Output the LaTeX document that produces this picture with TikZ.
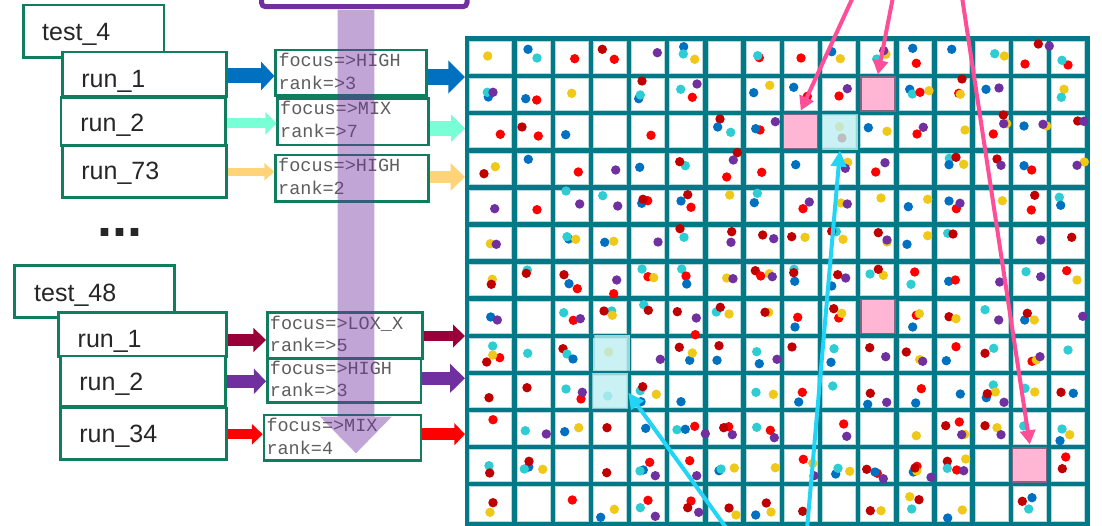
\documentclass[tikz,border=0pt]{standalone}
\usepackage{fontspec}
\setmainfont{Liberation Sans}
\newfontfamily\monof{Liberation Mono}
\usetikzlibrary{arrows.meta}
\definecolor{gridteal}{HTML}{037987}
\definecolor{celledge}{HTML}{B4D8DC}
\definecolor{boxgreen}{HTML}{0F7D5E}
\definecolor{dY}{HTML}{F0C818}
\definecolor{dC}{HTML}{2ECCD3}
\definecolor{dR}{HTML}{FF0000}
\definecolor{dD}{HTML}{C00000}
\definecolor{dB}{HTML}{0070C0}
\definecolor{dP}{HTML}{7030A0}
\definecolor{aqua}{HTML}{78FFD6}
\definecolor{lorange}{HTML}{FFD479}
\definecolor{crimson}{HTML}{99003A}
\definecolor{pinkline}{HTML}{FF4D98}
\definecolor{cyanline}{HTML}{22D5F7}
\definecolor{pinkfill}{HTML}{FFB5D3}
\definecolor{pinkedge}{HTML}{826483}
\definecolor{cyanhl}{HTML}{BDEEF1}
\definecolor{cyanhledge}{HTML}{9AD6DA}
\definecolor{monogray}{HTML}{5E5E5E}
\definecolor{txt}{HTML}{262626}
\tikzset{
 runbox/.style={draw=boxgreen, line width=2.5pt, fill=white, inner sep=0pt},
 runtxt/.style={text=txt, font=\fontsize{25pt}{30pt}\selectfont, inner sep=0pt, anchor=base west},
 fbox/.style={draw=boxgreen, line width=2.5pt, fill=white, inner sep=0pt},
 ftxt/.style={text=monogray, font=\monof\fontsize{18.5pt}{22pt}\selectfont, inner sep=0pt, anchor=base west},
 barrow/.style n args={4}{draw=#1, line width=#2, -{Triangle[length=#4,width=#3]}},
 pinkcell/.style={fill=pinkfill, draw=pinkedge, line width=1.2pt, minimum width=34pt, minimum height=34pt, inner sep=0pt},
 cyancell/.style={fill=cyanhl, fill opacity=0.8, draw=cyanhledge, draw opacity=0.8, line width=1pt, minimum width=35pt, minimum height=35pt, inner sep=0pt},
 pinkarr/.style={draw=pinkline, line width=4pt, -{Triangle[length=14pt,width=15pt]}},
 cyanarr/.style={draw=cyanline, line width=4pt, -{Triangle[length=16pt,width=15pt]}},
}
\begin{document}
\begin{tikzpicture}[x=1pt,y=-1pt]
\useasboundingbox (0,0) rectangle (1102,526);
\clip (0,0) rectangle (1102,526);

% group 1
\node[runbox, minimum width=140.7pt, minimum height=52.3pt] (g1t) at (93.65,31.15) {};
\node[runtxt] (g1tt) at (42,40.7) {test\_4};
\node[runbox, minimum width=164.4pt, minimum height=44.7pt] (g1r1) at (144.5,74.35) {};
\node[runtxt] (g1r1t) at (81.2,88) {run\_1};
\node[runbox, minimum width=164.7pt, minimum height=48.4pt] (g1r2) at (143.35,121.5) {};
\node[runtxt] (g1r2t) at (80.2,131.7) {run\_2};
\node[runbox, minimum width=164.4pt, minimum height=51.6pt] (g1r3) at (144.5,171.5) {};
\node[runtxt] (g1r3t) at (81.2,180) {run\_73};

\node[text=txt, font=\bfseries\fontsize{54pt}{60pt}\selectfont, inner sep=0pt, anchor=base west] (ell) at (97.5,237) {...};

% group 2
\node[runbox, minimum width=160pt, minimum height=52pt] (g2t) at (94.3,291.7) {};
\node[runtxt] (g2tt) at (34,301.7) {test\_48};
\node[runbox, minimum width=168.4pt, minimum height=44.4pt] (g2r1) at (142.5,334.5) {};
\node[runtxt] (g2r1t) at (77.5,347.3) {run\_1};
\node[runbox, minimum width=165.4pt, minimum height=50.7pt] (g2r2) at (143,381.35) {};
\node[runtxt] (g2r2t) at (79.2,390.7) {run\_2};
\node[runbox, minimum width=166.4pt, minimum height=51.3pt] (g2r3) at (143.5,433.65) {};
\node[runtxt] (g2r3t) at (79.2,442.7) {run\_34};

% focus boxes
\node[fbox, minimum width=150.6pt, minimum height=45.7pt] (f1) at (351,72.85) {};
\node[ftxt] (f1a) at (278.3,66.7) {focus=>HIGH};
\node[ftxt] (f1b) at (278.3,89.3) {rank=>3};
\node[fbox, minimum width=150.6pt, minimum height=46.3pt] (f2) at (353,121.85) {};
\node[ftxt] (f2a) at (280,115) {focus=>MIX};
\node[ftxt] (f2b) at (280,137.3) {rank=>7};
\node[fbox, minimum width=152.6pt, minimum height=46.3pt] (f3) at (352,178.15) {};
\node[ftxt] (f3a) at (278,171.7) {focus=>HIGH};
\node[ftxt] (f3b) at (278,194.3) {rank=2};
\node[fbox, minimum width=155.4pt, minimum height=46pt] (f4) at (345,335.3) {};
\node[ftxt] (f4a) at (269.7,330) {focus=>LOX\_X};
\node[ftxt] (f4b) at (269.7,351.7) {rank=>5};
\node[fbox, minimum width=153.7pt, minimum height=44.4pt] (f5) at (344.15,380.5) {};
\node[ftxt] (f5a) at (269.7,374) {focus=>HIGH};
\node[ftxt] (f5b) at (269.7,396) {rank=>3};
\node[fbox, minimum width=157pt, minimum height=45.7pt] (f6) at (342.5,437.85) {};
\node[ftxt] (f6a) at (266.3,431.7) {focus=>MIX};
\node[ftxt] (f6b) at (266.3,454) {rank=4};

% purple band arrow
\fill[dP, opacity=0.43] (337.7,10) -- (337.7,416.7) -- (320,416.7) -- (356,453.3) -- (391.7,416.7) -- (374.3,416.7) -- (374.3,10) -- cycle;
\draw[dP, line width=5pt, rounded corners=4pt] (261.5,-20) rectangle (467,6.7);

% arrow levels
\coordinate (gridw) at (465,0);
\coordinate (yA1) at (0,76);    \coordinate (yB1) at (0,77);
\coordinate (yA2) at (0,123.3); \coordinate (yB2) at (0,128.3);
\coordinate (yA3) at (0,171.7); \coordinate (yB3) at (0,177);
\coordinate (yA4) at (0,340);   \coordinate (yB4) at (0,336);
\coordinate (yA5) at (0,381.3); \coordinate (yB5) at (0,378.3);
\coordinate (yA6) at (0,434.3); \coordinate (yB6) at (0,434.2);

\draw[barrow={dB}{15pt}{28pt}{13.4pt}] (g1r1.east |- yA1) -- (f1.west |- yA1);
\draw[barrow={dB}{15.7pt}{32pt}{16.6pt}] (f1.east |- yB1) -- (gridw |- yB1);
\draw[barrow={aqua}{10pt}{22pt}{11pt}] (g1r2.east |- yA2) -- (f2.west |- yA2);
\draw[barrow={aqua}{14.7pt}{26.7pt}{14pt}] (f2.east |- yB2) -- (gridw |- yB2);
\draw[barrow={lorange}{8pt}{16.7pt}{10pt}] (g1r3.east |- yA3) -- (f3.west |- yA3);
\draw[barrow={lorange}{11.6pt}{26.7pt}{14.3pt}] (f3.east |- yB3) -- (gridw |- yB3);
\draw[barrow={crimson}{12pt}{23.4pt}{12.6pt}] (g2r1.east |- yA4) -- (f4.west |- yA4);
\draw[barrow={crimson}{10pt}{22.3pt}{12pt}] (f4.east |- yB4) -- (gridw |- yB4);
\draw[barrow={dP}{12.7pt}{25pt}{12.3pt}] (g2r2.east |- yA5) -- (f5.west |- yA5);
\draw[barrow={dP}{13.3pt}{28.3pt}{15pt}] (f5.east |- yB5) -- (gridw |- yB5);
\draw[barrow={dR}{10pt}{20.3pt}{11pt}] (g2r3.east |- yA6) -- (f6.west |- yA6);
\draw[barrow={dR}{11.7pt}{21.7pt}{10.7pt}] (f6.east |- yB6) -- (gridw |- yB6);

% grid
\fill[gridteal] (464.7,36.5) rectangle (1089.5,530);
\foreach \ci in {1,...,16}{
 \foreach \ri in {1,...,13}{
  \pgfmathsetmacro\xl{(\ci==1) ? 467 : 514.5+38.17*(\ci-2)}
  \pgfmathsetmacro\xr{514.5+38.17*(\ci-1)}
  \pgfmathsetmacro\yt{39+37.08*(\ri-1)}
  \pgfmathsetmacro\yb{(\ri==13) ? 524.4 : 39+37.08*\ri}
  \fill[white, draw=celledge, line width=0.8pt] (\xl+2.7,\yt+2.7) rectangle (\xr-2.7,\yb-2.7);
 }}

% dots
\foreach \px/\py/\pc in {
487.7/56/dY, 528/49.3/dB, 537/58/dC, 574.7/58.7/dR, 602.3/49.3/dD, 614.3/59.3/dR, 657.3/52.7/dP,
683.7/46.7/dB, 683.3/54/dC, 694.7/59.3/dY, 759.3/57.7/dR, 757.7/55.7/dC, 801/58/dR, 831.7/51.7/dB, 840.3/58.7/dY,
886/54.3/dY, 876.7/59/dC, 883.7/50.7/dP, 912.7/48.3/dB, 916.3/63.3/dR, 951.7/49.3/dB, 994.7/53.7/dC, 1004.3/56/dY,
1038.3/44/dD, 1049.3/46/dP, 1025/64/dR, 1068/65/dR, 1062/60.3/dC,
488.3/97/dB, 487.3/92.3/dC, 493/92.3/dP, 525.7/98.7/dB, 536.7/100/dR, 571.7/93.3/dY, 642/81/dD, 638.7/98.7/dB, 640.3/95/dC,
680.7/89.3/dC, 697/84/dP, 692.3/97.3/dR, 753.7/92.7/dB, 769.7/85.3/dY, 793.7/87.3/dB, 807.3/96.3/dR, 847.3/88.7/dP, 839/96/dR,
909.7/89.3/dB, 912.3/94/dC, 920/92.3/dR, 929/90.7/dY, 962/79/dD, 958.7/93.3/dR, 960.3/94.3/dY, 986/89.3/dB, 999/88/dP,
1064/89.3/dY, 1061.3/97.3/dC,
500.3/134.3/dR, 522/127/dD, 538.3/136/dR, 565.7/134.7/dB, 651/135.3/dR, 720/119/dD, 717.7/127/dB, 730.7/132.3/dC,
760/130/dR, 755.7/128.7/dB, 775.3/121.7/dP, 839.3/126.7/dY, 842/138/dD, 868.3/127.7/dB, 887/131.3/dY, 923.3/127.3/dP, 917/134/dR,
965/130/dY, 1003.3/115/dD, 1006.7/123.7/dY, 1003.7/123.7/dP, 993.3/134/dR, 1024/126/dB, 1046.7/126/dY, 1043/124.3/dP,
1077.7/121/dD, 1083.7/121.3/dP,
484/173.7/dD, 495.3/166.7/dY, 528.3/159.3/dB, 578.3/172/dR, 615.7/170/dP, 639.7/167.3/dB, 685.3/165.7/dC, 679.7/161.7/dD,
737.3/152.7/dD, 733.3/160/dP, 726.7/177/dR, 761.7/172.3/dR, 795.7/164.7/dB, 847.7/162.3/dY, 845.3/168.3/dP, 885/162.7/dP, 875.7/172/dR,
949.3/158.3/dC, 956/157.3/dD, 949/164.7/dB, 963.7/164.3/dY, 997/159/dD, 1001/165.3/dP, 1024/165.7/dB, 1031.7/170/dR,
1084.3/162/dY, 1077/165.3/dP,
494.7/208.7/dP, 537/209.7/dR, 566/191/dC, 579.7/204/dP, 602.7/195.7/dC, 617.7/206/dP, 641.7/203.3/dB, 647.7/200.7/dR, 643/199.3/dD,
687.7/194.7/dD, 681/201/dB, 691/207.3/dR, 729.7/195/dY, 757.3/193.3/dC, 754.3/202.7/dB, 803/208.7/dR, 809.3/202/dP,
841/203/dY, 847.3/204/dP, 881/198/dY, 908.3/206.7/dB, 927.7/199.3/dY, 949/201/dB, 956.3/208.7/dR, 960/203.3/dP,
1002.3/200.7/dY, 1034.7/195.3/dD, 1031.3/210/dR, 1059.3/197.3/dC, 1060.7/205.3/dB,
490.3/243.7/dY, 496.3/244.3/dP, 568.7/239/dB, 567/236.7/dC, 575.7/239.3/dY, 604.7/242.3/dB, 613.7/241.3/dY, 658/242/dP,
680/228.7/dD, 684/237.3/dC, 731.7/231.7/dD, 731/242.3/dP, 762.7/235/dD, 773.7/238.7/dP, 791.7/236.7/dD, 805/237.3/dY,
836.3/231.7/dC, 831.7/231.3/dD, 843/239.3/dY, 878.3/232.7/dD, 887/242/dY, 887/240/dP, 907/244.3/dB, 927.7/235.7/dY,
947.7/233.3/dC, 953/234/dD, 1040.7/240/dP, 1071.7/237.3/dD,
492.3/279.3/dY, 491.3/284.3/dD, 527.3/270/dC, 526.3/273.3/dD, 564/274.7/dD, 569/283.7/dB, 577.3/288.7/dR, 616.7/280/dP, 613.7/293.7/dR,
642/269/dC, 648/276.7/dR, 653.7/277.7/dY, 681.7/269/dC, 686/276/dR, 686.7/284/dB, 726.7/278/dY, 733/278.7/dP,
755.3/270.7/dD, 760.7/276/dR, 769.3/273.7/dY, 772.3/276.7/dP, 794/269.3/dC, 793.7/272.7/dD, 794.7/281.3/dB,
831.7/286/dB, 837.7/274.7/dD, 845.7/278/dP, 870/274/dC, 883.3/275.3/dY, 878.3/269.3/dD, 914.7/272/dR, 911/284.3/dC,
948.7/281.3/dB, 955.3/280/dR, 999.7/282/dP, 1026/271.7/dC, 1040.7/276.7/dP, 1066.7/270.7/dR, 1077/280/dY,
490.7/317/dB, 497.3/320/dP, 563.7/312.7/dC, 573.3/320.3/dR, 580.3/318.7/dP, 611.7/311/dC, 604/311/dD, 612.3/315.3/dY,
643.7/304.7/dC, 648.3/310.3/dD, 677.3/311.7/dD, 696.3/318/dP, 695.3/334.7/dR, 716.3/312/dC, 720.3/307.3/dD, 729/314/dY,
768.7/312.3/dY, 765/312.3/dD, 797.7/317.3/dR, 795/327/dB, 833.7/308.7/dD, 838.7/318/dR, 841.7/313.3/dY,
916.3/315.3/dR, 919.3/313.7/dY, 912.7/327/dB, 949/316.7/dD, 956/318.7/dY, 985/309.7/dC, 998.7/320/dP,
1024.7/320/dB, 1027.3/313.3/dD, 1034.3/320/dY, 1082.7/316.3/dP,
492.7/346/dC, 499.7/357.7/dR, 492.7/355/dY, 486.7/362/dD, 527.7/353.3/dC, 563/348.7/dD, 567/354/dC, 573/359/dB,
608.7/352/dY, 660.3/359.3/dP, 679.3/347.3/dD, 689.7/360.3/dB, 692.3/353/dY, 719/345.7/dD, 717/360.3/dB,
756.7/351.7/dC, 759.3/363.7/dB, 777/359.3/dP, 792/347/dD, 834/348.7/dC, 831/362.3/dB, 869.7/347.7/dD, 885.7/356.7/dP,
906.3/352/dD, 919.7/359.7/dY, 922.7/361.3/dP, 956/346.7/dR, 946.3/360.7/dB, 985/353.3/dD, 993.7/348.3/dC,
1032/361.3/dR, 1036.3/360/dY, 1040/356.7/dP, 1068/350/dC,
489/397.7/dD, 527/387.7/dD, 566/389/dC, 581/399/dR, 582.3/392.3/dP, 607.7/396/dC, 641/401.7/dB, 640.3/390.7/dC, 642.7/386.7/dD,
656.3/394.3/dY, 681/401.7/dB, 756/392.3/dC, 773.3/394.3/dY, 802.3/392.3/dR, 798.7/402/dB, 832.7/386/dC,
870.3/393.3/dD, 867.7/404.3/dB, 886.7/402.3/dP, 921.3/388.7/dR, 915.7/403/dB, 960.3/394/dB,
993.3/385/dC, 995.3/392/dY, 986.3/397.7/dB, 987.3/393.7/dD, 1004/402.3/dP, 1025/388.3/dC, 1034.7/392/dY, 1061/392.3/dD, 1073.3/393.3/dB,
493/419.7/dR, 525.3/430.7/dC, 546.3/434/dP, 564.7/431.7/dB, 578.7/427.7/dY, 607/427.7/dD, 645.7/428.3/dB,
677/429.7/dC, 685.3/429.3/dB, 694.7/426.3/dR, 705.3/433.7/dP, 728.7/426.7/dR, 723.7/427.7/dD, 732.3/434.7/dP,
756.7/427.3/dC, 770.3/430.3/dR, 774.3/437.7/dP, 843.7/424/dR, 846.7/436.3/dP, 916.3/435.7/dY,
945.7/425.7/dD, 959.3/422/dR, 964.7/434.3/dY, 961.7/434.7/dP, 985/425.7/dD, 997/427.7/dY, 1001/434.7/dP, 1023.7/426/dC,
1062/429/dC, 1069.7/434.7/dY, 1060/440.7/dB,
489/465.7/dC, 489.7/473/dD, 528.7/467/dB, 524.3/469/dC, 529/461.3/dD, 542.7/469.3/dY, 606.7/472.7/dD,
649.7/462.3/dR, 643.3/470/dB, 640/471/dC, 655.3/475.7/dP, 689.7/460.7/dR, 696.7/475.7/dP, 719/470.7/dB, 721/469/dC, 734.3/468/dY,
775.3/467.7/dY, 803.3/459.3/dR, 812.7/463.3/dY, 814/475.7/dP, 835.7/474/dB, 838/468.3/dC, 849.7/471.3/dY,
866.7/469.3/dD, 877.3/473.3/dR, 875/472/dB, 883.3/478.7/dP, 917/466.3/dR, 913.3/472/dB, 916.7/471/dY, 915/468/dD, 931/477.3/dP,
947.3/461.3/dD, 965.7/459/dY, 947.3/468.3/dC, 956.7/470/dR, 963.7/470.7/dP, 1065.7/457/dR, 1062.3/468.7/dD,
493/502.7/dD, 490/512.3/dY, 572.3/500/dR, 600.7/517.3/dB, 614.3/509.3/dY, 648/500.3/dR, 640.3/507.7/dC, 655.3/516.3/dP,
691/501/dR, 687.7/507.7/dD, 698.7/512.3/dP, 729/508/dD, 736/515/dY, 766.3/503/dD, 771/512/dY, 755.7/515/dB,
802.7/511.3/dD, 870.3/510.7/dD, 881/510.7/dY, 909.7/496.7/dY, 919/499.7/dD, 911.7/509/dC, 947.7/518/dB, 962.3/510/dY,
1022.3/501.3/dD, 1032/497.7/dB, 1028.7/509/dC}
 \fill[\pc] (\px,\py) circle[radius=4.7pt];

% highlighted cells
\node[pinkcell] (h1) at (800.78,131.2) {};
\node[pinkcell] (h2) at (877.9,94) {};
\node[pinkcell] (h3) at (877.9,316.6) {};
\node[pinkcell] (h4) at (1029.8,465) {};
\node[cyancell] (c1) at (840,132.5) {};
\node[cyancell] (c2) at (612,352.6) {};
\node[cyancell] (c3) at (610.2,390.6) {};

% pointer arrows
\coordinate (p1s) at (853,-3);
\coordinate (p2s) at (893,-3);
\coordinate (p3s) at (962,-3);
\coordinate (q1s) at (807,529);
\coordinate (q2s) at (727,529);
\draw[pinkarr] (p1s) -- ([yshift=3pt]h1.north);
\draw[pinkarr] (p2s) -- ([yshift=2pt]h2.north);
\draw[pinkarr] (p3s) -- ([yshift=3pt]h4.north);
\draw[cyanarr] (q1s) -- (c1.south);
\draw[cyanarr] (q2s) -- ([yshift=-2pt]c3.east);
\end{tikzpicture}
\end{document}
